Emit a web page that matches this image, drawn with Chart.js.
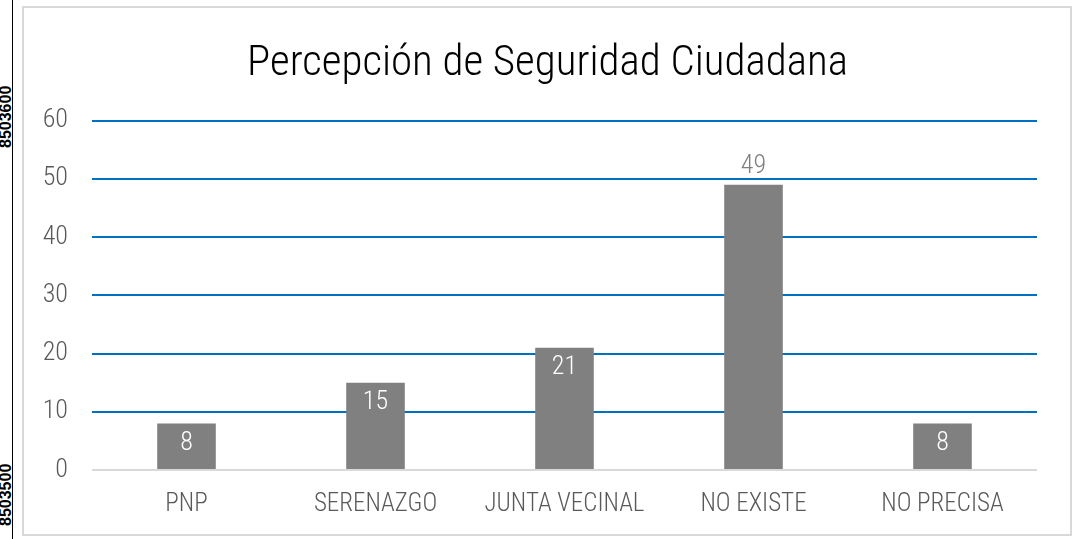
<!DOCTYPE html>
<html>
<head>
<meta charset="utf-8">
<script src="https://cdn.jsdelivr.net/npm/chart.js@4"></script>
<style>
  body { margin: 0; width: 1080px; height: 539px; background: #fff; position: relative; overflow: hidden; }
  #vline { position: absolute; left: 12px; top: 0; width: 1px; height: 539px; background: #000; }
  .coord { position: absolute; font: bold 16px "Liberation Sans", Arial, sans-serif; line-height: 18px; color: #000;
           transform: rotate(-90deg); transform-origin: center; width: 60px; text-align: center; }
  #frame { position: absolute; left: 22px; top: 6px; width: 1046px; height: 526px; border: 2px solid #d9d9d9; }
  #jobops { position: absolute; left: 0; top: 0; }
</style>
</head>
<body>
<div id="vline"></div>
<div class="coord" style="left:-24px; top:109px;">8503600</div>
<div class="coord" style="left:-24px; top:487px;">8503500</div>
<div id="frame"><canvas id="jobops" width="1044" height="524"></canvas></div>
<script>
const categories = ["PNP", "SERENAZGO", "JUNTA VECINAL", "NO EXISTE", "NO PRECISA"];
const values = [8, 15, 21, 49, 8];
const yTicks = [0, 10, 20, 30, 40, 50, 60];

const FONT = '"Liberation Sans Narrow", "Arial Narrow", "Roboto Condensed", sans-serif';

// draws the value labels: white inside the bar top, grey above when outside
const barLabels = {
    id: 'barLabels',
    afterDatasetsDraw(chart) {
        const c = chart.ctx;
        const meta = chart.getDatasetMeta(0);
        c.save();
        c.font = '300 26px ' + FONT;
        c.textAlign = 'center';
        c.textBaseline = 'middle';
        meta.data.forEach((bar, i) => {
            const v = values[i];
            if (v > 40) {
                c.fillStyle = '#7f7f7f';
                c.fillText(String(v), bar.x, bar.y - 18);
            } else {
                c.fillStyle = '#ffffff';
                c.fillText(String(v), bar.x, bar.y + 20);
            }
        });
        c.restore();
    }
};

// title sits centred on the plot area rather than the whole canvas
const titleShift = {
    id: 'titleShift',
    afterLayout(chart) {
        if (chart.titleBlock) {
            chart.titleBlock.left = chart.chartArea.left - 34;
            chart.titleBlock.right = chart.chartArea.right;
        }
    }
};

const ctx = document.getElementById('jobops').getContext('2d');

new Chart(ctx, {
    type: 'bar',
    data: {
        labels: categories,
        datasets: [{
            data: values,
            backgroundColor: '#808080',
            categoryPercentage: 1,
            barPercentage: 0.31
        }]
    },
    options: {
        responsive: false,
        animation: false,
        layout: { padding: { left: 0, right: 31, top: 0, bottom: 0 } },
        plugins: {
            legend: { display: false },
            tooltip: { enabled: false },
            title: {
                display: true,
                text: 'Percepción de Seguridad Ciudadana',
                color: '#000000',
                font: { family: FONT, size: 43, weight: 300 },
                padding: { top: 30, bottom: 31 }
            }
        },
        scales: {
            x: {
                afterFit(scale) { scale.height = 62; },
                grid: { display: false, drawTicks: false },
                border: { display: false },
                ticks: { color: '#595959', font: { family: FONT, size: 25, weight: 300 }, padding: 20, maxRotation: 0 }
            },
            y: {
                min: 0,
                max: 60,
                afterFit(scale) { scale.width = 68; },
                afterBuildTicks(scale) { scale.ticks = yTicks.map(v => ({ value: v })); },
                border: { display: false },
                grid: {
                    color: (c) => c.tick && c.tick.value === 0 ? '#d9d9d9' : '#0070c0',
                    lineWidth: 2,
                    drawTicks: false
                },
                ticks: { color: '#595959', font: { family: FONT, size: 26, weight: 300 }, padding: 24 }
            }
        }
    },
    plugins: [barLabels, titleShift]
});
</script>
</body>
</html>
